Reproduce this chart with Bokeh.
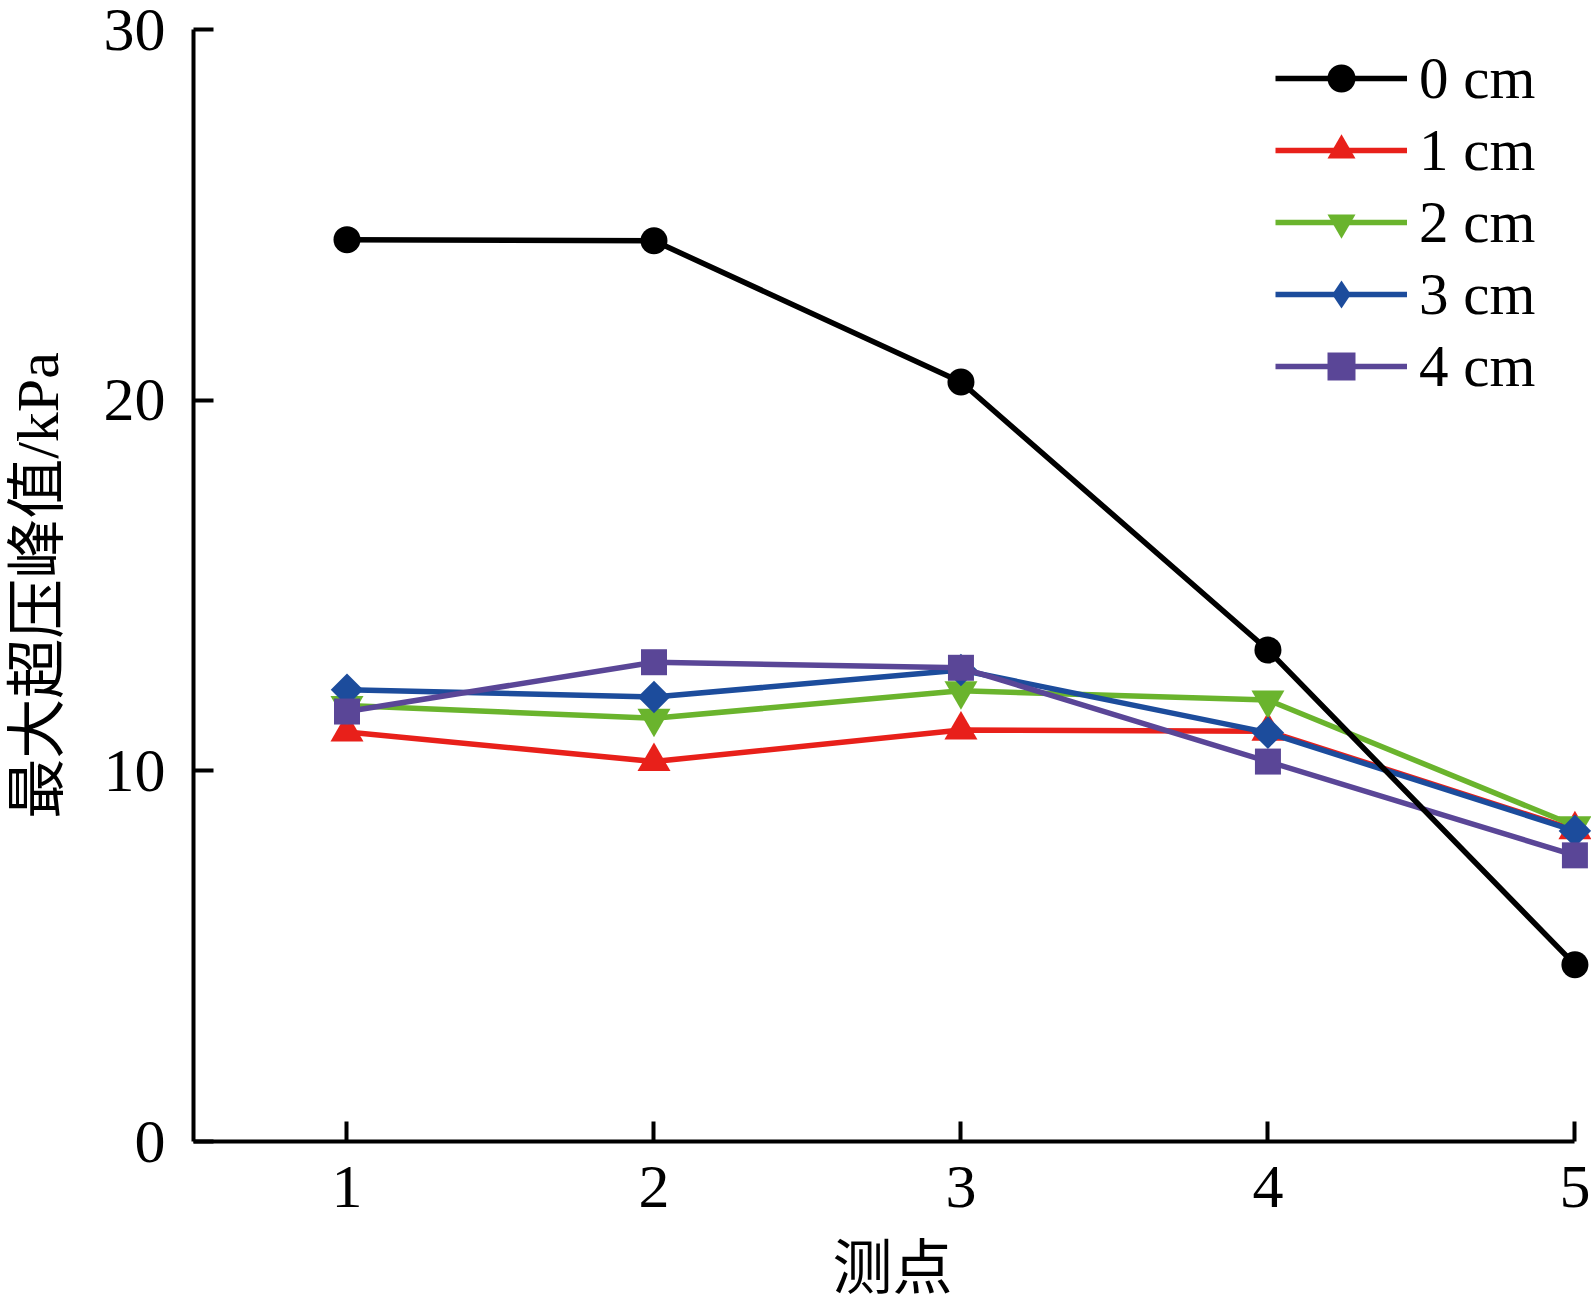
from bokeh.plotting import figure
from bokeh.models import Range1d, FixedTicker, Legend, LegendItem
from bokeh.embed import file_html
from bokeh.resources import INLINE
import numpy as np

points = [1, 2, 3, 4, 5]
series_labels = ["0 cm", "1 cm", "2 cm", "3 cm", "4 cm"]
v0 = [24.33, 24.30, 20.49, 13.26, 4.77]
v1 = [11.05, 10.25, 11.10, 11.07, 8.41]
v2 = [11.76, 11.42, 12.16, 11.91, 8.52]
v3 = [12.19, 11.99, 12.72, 11.03, 8.38]
v4 = [11.60, 12.93, 12.78, 10.25, 7.72]
x_ticks = [1, 2, 3, 4, 5]
y_ticks = [0, 10, 20, 30]
x_title = "测点"
y_title = "最大超压峰值/kPa"

colors = ["#000000", "#E8201A", "#6AB42D", "#1C4C9C", "#5A4697"]
markers = ["circle", "triangle", "inverted_triangle", "square", "square"]
legend_markers = ["circle", "triangle", "inverted_triangle", "diamond", "square"]
sizes = [27, 33, 33, 23, 26]
angles = [0, 0, 0, np.pi / 4, 0]
values = [v0, v1, v2, v3, v4]

SERIF = "Liberation Serif, Noto Sans CJK SC"

p = figure(width=1591, height=1304,
           x_range=Range1d(0.5, 5.054), y_range=Range1d(0, 30),
           output_backend="svg", toolbar_location=None,
           min_border_left=193, min_border_right=0,
           min_border_top=29, min_border_bottom=162)

p.background_fill_color = "white"
p.border_fill_color = "white"
p.outline_line_color = None
p.grid.visible = False

renderers = {}
draw_order = [1, 2, 3, 4, 0]
for i in draw_order:
    ln = p.line(points, values[i], line_color=colors[i], line_width=5.5)
    sc = p.scatter(points, values[i], marker=markers[i], size=sizes[i],
                   angle=angles[i], fill_color=colors[i], line_color=None)
    if legend_markers[i] != markers[i]:
        # legend-only glyph (legend swatches ignore marker rotation)
        lg = p.scatter([np.nan], [np.nan], marker=legend_markers[i], size=sizes[i],
                       fill_color=colors[i], line_color=None)
        renderers[i] = [ln, lg]
    else:
        renderers[i] = [ln, sc]

items = [LegendItem(label=series_labels[i], renderers=renderers[i]) for i in range(5)]
legend = Legend(items=items, location=(1082, 740))
legend.border_line_color = None
legend.background_fill_alpha = 0
legend.padding = 0
legend.margin = 0
legend.spacing = 2
legend.glyph_width = 132
legend.glyph_height = 70
legend.label_height = 70
legend.label_standoff = 12
legend.label_text_font = SERIF
legend.label_text_font_size = "59px"
legend.label_text_color = "black"
p.add_layout(legend, "center")

for ax in (p.xaxis[0], p.yaxis[0]):
    ax.axis_line_width = 4
    ax.axis_line_color = "black"
    ax.major_tick_line_width = 4
    ax.major_tick_line_color = "black"
    ax.major_tick_in = 20
    ax.major_tick_out = 0
    ax.minor_tick_line_color = None
    ax.major_label_text_font = SERIF
    ax.major_label_text_font_size = "62px"
    ax.major_label_text_color = "black"
    ax.axis_label_text_font = SERIF
    ax.axis_label_text_font_size = "60px"
    ax.axis_label_text_font_style = "normal"
    ax.axis_label_text_color = "black"

p.xaxis[0].ticker = FixedTicker(ticks=x_ticks)
p.yaxis[0].ticker = FixedTicker(ticks=y_ticks)
p.xaxis[0].bounds = (0.5, 5)
p.xaxis[0].axis_label = x_title
p.yaxis[0].axis_label = y_title
p.xaxis[0].major_label_standoff = 25
p.xaxis[0].axis_label_standoff = 26
p.yaxis[0].major_label_standoff = 28
p.yaxis[0].axis_label_standoff = 30

open("out.html", "w").write(file_html(p, INLINE))
